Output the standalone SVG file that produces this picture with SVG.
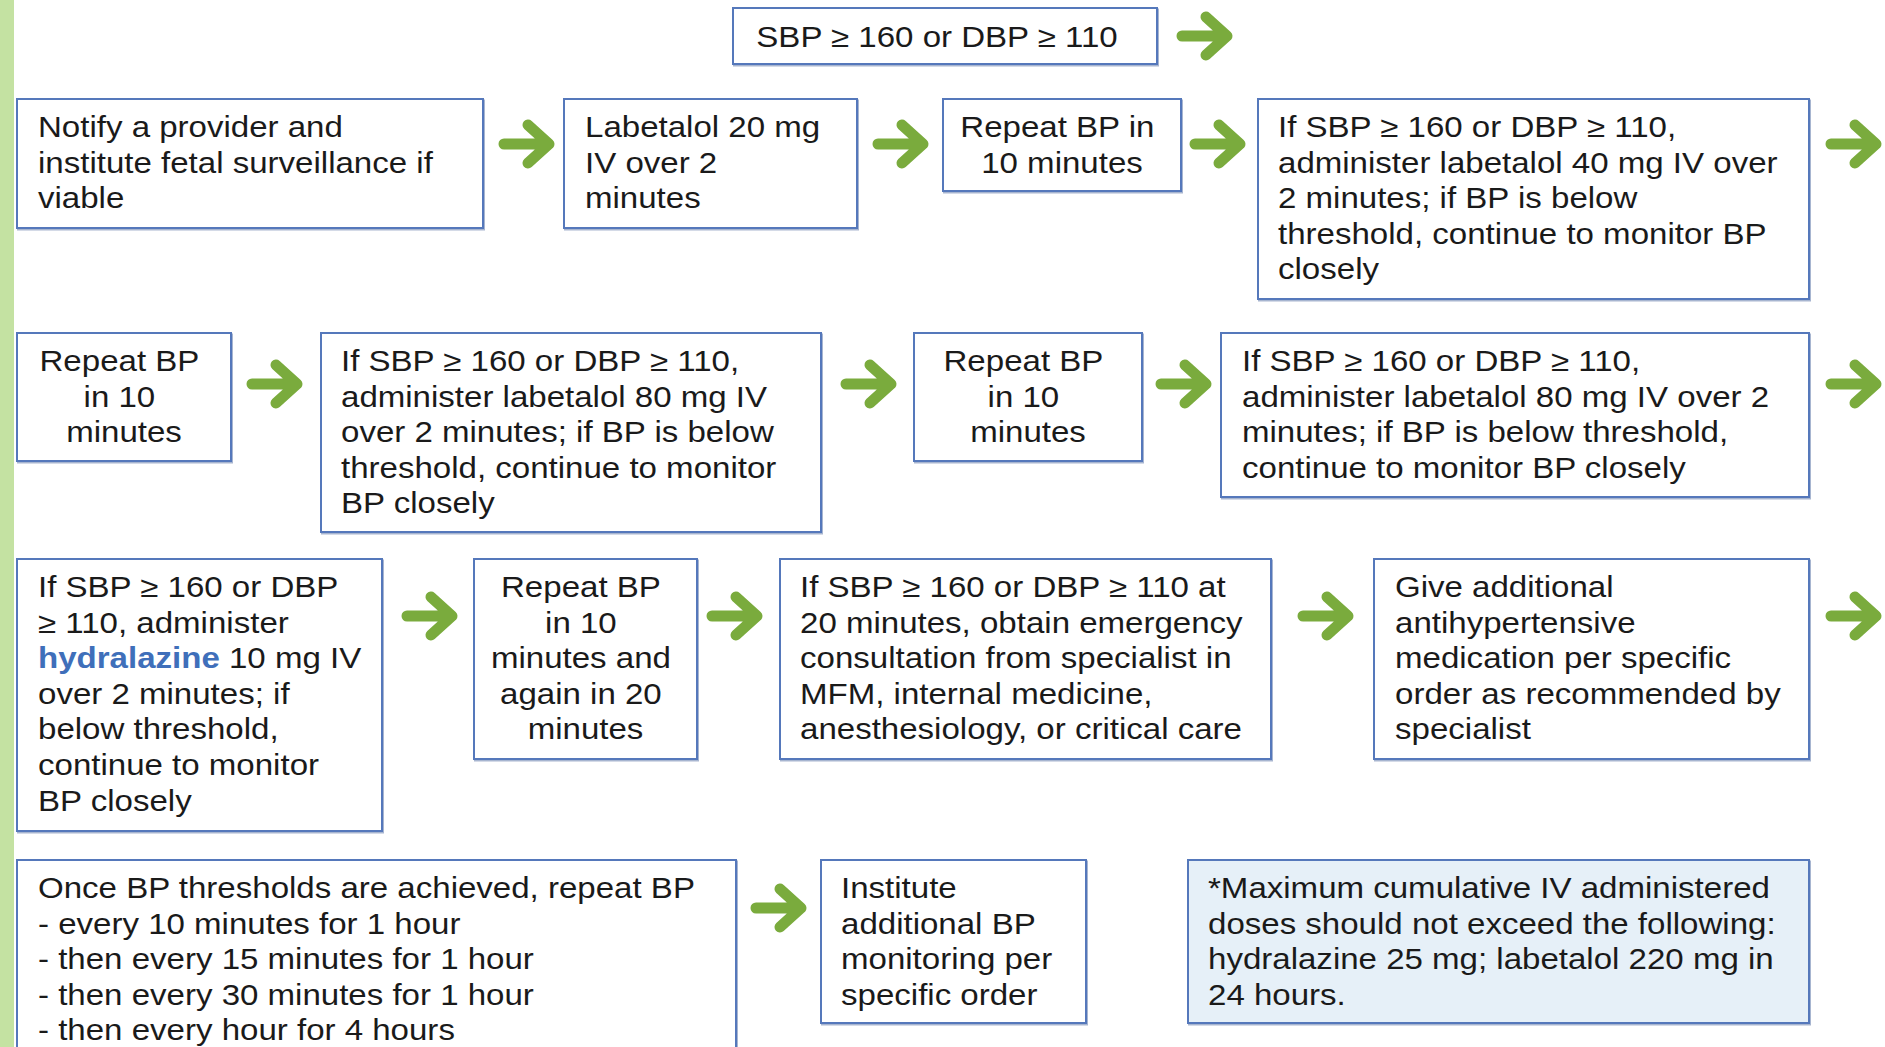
<svg xmlns="http://www.w3.org/2000/svg" xmlns:xlink="http://www.w3.org/1999/xlink" width="1885" height="1047" viewBox="0 0 1885 1047">
  <style>
    .box { fill: #ffffff; stroke: #5478bb; stroke-width: 2; filter: url(#shadow); }
    .note { fill: #e6f0f8; }
    .t { font-family: "Liberation Sans", Arial, sans-serif; font-size: 29px; fill: #1a1a1a; }
    .c { text-anchor: middle; }
    .hl { fill: #3f6fba; font-weight: bold; }
    .arrow { fill: none; stroke: #7aab3d; stroke-width: 11; stroke-linecap: round; stroke-linejoin: round; }
  </style>
  <defs>
    <filter id="shadow" x="-5%" y="-5%" width="110%" height="115%">
      <feDropShadow dx="1" dy="1.5" stdDeviation="0.6" flood-color="#3c5a96" flood-opacity="0.45"/>
    </filter>
    <!-- thick green step arrow, centred on the origin -->
    <path id="arr" class="arrow" d="M-23,0 H21 M1,-19 L22,0 L1,19"/>
  </defs>

  <rect width="1885" height="1047" fill="#ffffff"/>
  <!-- slide edge strip -->
  <rect x="0" y="0" width="14" height="1047" fill="#c4e2a2"/>

  <g id="connectors">
    <use xlink:href="#arr" href="#arr" transform="translate(1205,36)"/>
    <use xlink:href="#arr" href="#arr" transform="translate(527,144)"/>
    <use xlink:href="#arr" href="#arr" transform="translate(901,144)"/>
    <use xlink:href="#arr" href="#arr" transform="translate(1218,144)"/>
    <use xlink:href="#arr" href="#arr" transform="translate(1854,144)"/>
    <use xlink:href="#arr" href="#arr" transform="translate(275,384)"/>
    <use xlink:href="#arr" href="#arr" transform="translate(869,384)"/>
    <use xlink:href="#arr" href="#arr" transform="translate(1184,384)"/>
    <use xlink:href="#arr" href="#arr" transform="translate(1854,384)"/>
    <use xlink:href="#arr" href="#arr" transform="translate(430,616)"/>
    <use xlink:href="#arr" href="#arr" transform="translate(735,616)"/>
    <use xlink:href="#arr" href="#arr" transform="translate(1326,616)"/>
    <use xlink:href="#arr" href="#arr" transform="translate(1854,616)"/>
    <use xlink:href="#arr" href="#arr" transform="translate(779,908)"/>
  </g>

  <g id="start">
    <rect class="box" x="733" y="8" width="424" height="56"/>
    <text class="t c" transform="translate(937,47) scale(1.14,1)">SBP ≥ 160 or DBP ≥ 110</text>
  </g>

  <g id="notify">
    <rect class="box" x="17" y="99" width="466" height="129"/>
    <text class="t" transform="translate(38,137) scale(1.14,1)">
      <tspan x="0" y="0">Notify a provider and</tspan>
      <tspan x="0" dy="35.6">institute fetal surveillance if</tspan>
      <tspan x="0" dy="35.6">viable</tspan>
    </text>
  </g>

  <g id="labetalol20">
    <rect class="box" x="564" y="99" width="293" height="129"/>
    <text class="t" transform="translate(585,137) scale(1.14,1)">
      <tspan x="0" y="0">Labetalol 20 mg</tspan>
      <tspan x="0" dy="35.6">IV over 2</tspan>
      <tspan x="0" dy="35.6">minutes</tspan>
    </text>
  </g>

  <g id="repeat1">
    <rect class="box" x="943" y="99" width="238" height="92"/>
    <text class="t c" transform="translate(1062,137) scale(1.14,1)">
      <tspan x="0" y="0">Repeat BP in</tspan>
      <tspan x="0" dy="35.6">10 minutes</tspan>
    </text>
  </g>

  <g id="labetalol40">
    <rect class="box" x="1258" y="99" width="551" height="200"/>
    <text class="t" transform="translate(1278,137) scale(1.14,1)">
      <tspan x="0" y="0">If SBP ≥ 160 or DBP ≥ 110,</tspan>
      <tspan x="0" dy="35.6">administer labetalol 40 mg IV over</tspan>
      <tspan x="0" dy="35.6">2 minutes; if BP is below</tspan>
      <tspan x="0" dy="35.6">threshold, continue to monitor BP</tspan>
      <tspan x="0" dy="35.6">closely</tspan>
    </text>
  </g>

  <g id="repeat2">
    <rect class="box" x="17" y="333" width="214" height="128"/>
    <text class="t c" transform="translate(124,371) scale(1.14,1)">
      <tspan x="0" y="0">Repeat BP</tspan>
      <tspan x="0" dy="35.6">in 10</tspan>
      <tspan x="0" dy="35.6">minutes</tspan>
    </text>
  </g>

  <g id="labetalol80a">
    <rect class="box" x="321" y="333" width="500" height="199"/>
    <text class="t" transform="translate(341,371) scale(1.14,1)">
      <tspan x="0" y="0">If SBP ≥ 160 or DBP ≥ 110,</tspan>
      <tspan x="0" dy="35.6">administer labetalol 80 mg IV</tspan>
      <tspan x="0" dy="35.6">over 2 minutes; if BP is below</tspan>
      <tspan x="0" dy="35.6">threshold, continue to monitor</tspan>
      <tspan x="0" dy="35.6">BP closely</tspan>
    </text>
  </g>

  <g id="repeat3">
    <rect class="box" x="914" y="333" width="228" height="128"/>
    <text class="t c" transform="translate(1028,371) scale(1.14,1)">
      <tspan x="0" y="0">Repeat BP</tspan>
      <tspan x="0" dy="35.6">in 10</tspan>
      <tspan x="0" dy="35.6">minutes</tspan>
    </text>
  </g>

  <g id="labetalol80b">
    <rect class="box" x="1221" y="333" width="588" height="164"/>
    <text class="t" transform="translate(1242,371) scale(1.14,1)">
      <tspan x="0" y="0">If SBP ≥ 160 or DBP ≥ 110,</tspan>
      <tspan x="0" dy="35.6">administer labetalol 80 mg IV over 2</tspan>
      <tspan x="0" dy="35.6">minutes; if BP is below threshold,</tspan>
      <tspan x="0" dy="35.6">continue to monitor BP closely</tspan>
    </text>
  </g>

  <g id="hydralazine10">
    <rect class="box" x="17" y="559" width="365" height="272"/>
    <text class="t" transform="translate(38,597) scale(1.14,1)">
      <tspan x="0" y="0">If SBP ≥ 160 or DBP</tspan>
      <tspan x="0" dy="35.6">≥ 110, administer</tspan>
      <tspan x="0" dy="35.6"><tspan class="hl">hydralazine</tspan> 10 mg IV</tspan>
      <tspan x="0" dy="35.6">over 2 minutes; if</tspan>
      <tspan x="0" dy="35.6">below threshold,</tspan>
      <tspan x="0" dy="35.6">continue to monitor</tspan>
      <tspan x="0" dy="35.6">BP closely</tspan>
    </text>
  </g>

  <g id="repeat4">
    <rect class="box" x="474" y="559" width="223" height="200"/>
    <text class="t c" transform="translate(585.5,597) scale(1.14,1)">
      <tspan x="0" y="0">Repeat BP</tspan>
      <tspan x="0" dy="35.6">in 10</tspan>
      <tspan x="0" dy="35.6">minutes and</tspan>
      <tspan x="0" dy="35.6">again in 20</tspan>
      <tspan x="0" dy="35.6">minutes</tspan>
    </text>
  </g>

  <g id="consult">
    <rect class="box" x="780" y="559" width="491" height="200"/>
    <text class="t" transform="translate(800,597) scale(1.14,1)">
      <tspan x="0" y="0">If SBP ≥ 160 or DBP ≥ 110 at</tspan>
      <tspan x="0" dy="35.6">20 minutes, obtain emergency</tspan>
      <tspan x="0" dy="35.6">consultation from specialist in</tspan>
      <tspan x="0" dy="35.6">MFM, internal medicine,</tspan>
      <tspan x="0" dy="35.6">anesthesiology, or critical care</tspan>
    </text>
  </g>

  <g id="additional">
    <rect class="box" x="1374" y="559" width="435" height="200"/>
    <text class="t" transform="translate(1395,597) scale(1.14,1)">
      <tspan x="0" y="0">Give additional</tspan>
      <tspan x="0" dy="35.6">antihypertensive</tspan>
      <tspan x="0" dy="35.6">medication per specific</tspan>
      <tspan x="0" dy="35.6">order as recommended by</tspan>
      <tspan x="0" dy="35.6">specialist</tspan>
    </text>
  </g>

  <g id="followup">
    <rect class="box" x="17" y="860" width="719" height="210"/>
    <text class="t" transform="translate(38,898) scale(1.14,1)">
      <tspan x="0" y="0">Once BP thresholds are achieved, repeat BP</tspan>
      <tspan x="0" dy="35.6">- every 10 minutes for 1 hour</tspan>
      <tspan x="0" dy="35.6">- then every 15 minutes for 1 hour</tspan>
      <tspan x="0" dy="35.6">- then every 30 minutes for 1 hour</tspan>
      <tspan x="0" dy="35.6">- then every hour for 4 hours</tspan>
    </text>
  </g>

  <g id="monitoring">
    <rect class="box" x="821" y="860" width="265" height="163"/>
    <text class="t" transform="translate(841,898) scale(1.14,1)">
      <tspan x="0" y="0">Institute</tspan>
      <tspan x="0" dy="35.6">additional BP</tspan>
      <tspan x="0" dy="35.6">monitoring per</tspan>
      <tspan x="0" dy="35.6">specific order</tspan>
    </text>
  </g>

  <g id="max-dose">
    <rect class="box note" x="1188" y="860" width="621" height="163"/>
    <text class="t" transform="translate(1208,898) scale(1.14,1)">
      <tspan x="0" y="0">*Maximum cumulative IV administered</tspan>
      <tspan x="0" dy="35.6">doses should not exceed the following:</tspan>
      <tspan x="0" dy="35.6">hydralazine 25 mg; labetalol 220 mg in</tspan>
      <tspan x="0" dy="35.6">24 hours.</tspan>
    </text>
  </g>
</svg>
